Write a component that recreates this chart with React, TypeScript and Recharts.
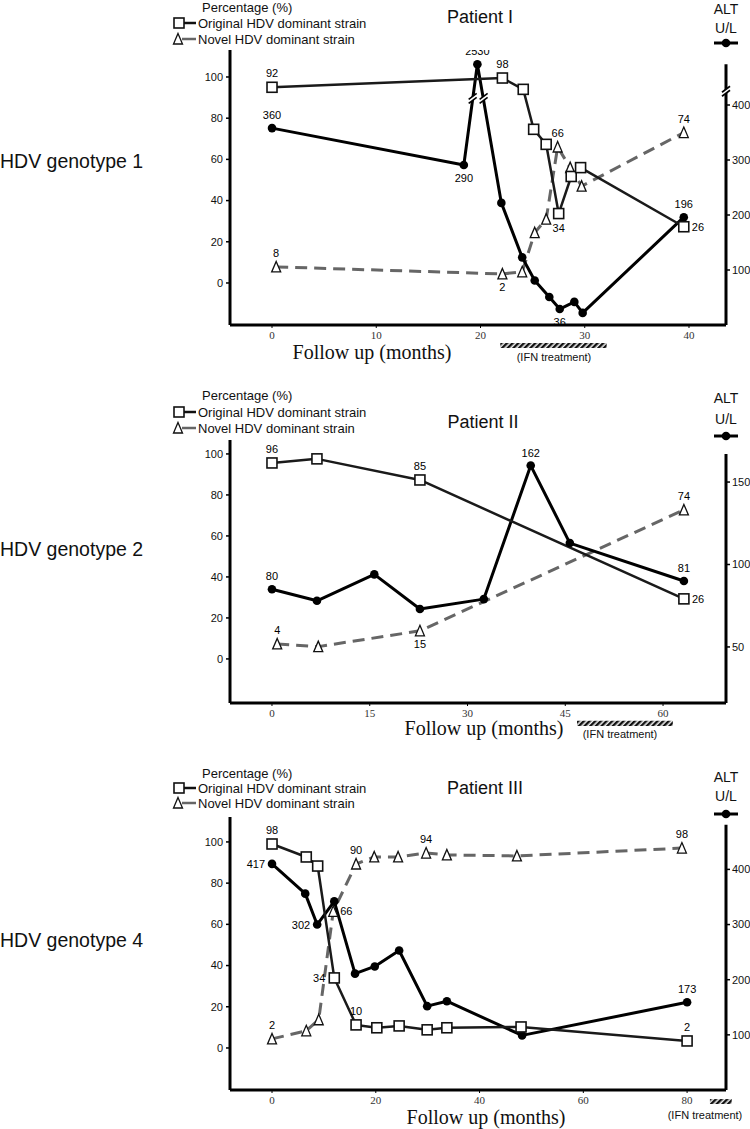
import React from 'react';
import { ComposedChart, Line, XAxis, YAxis, ReferenceLine, ReferenceArea, ReferenceDot } from 'recharts';

// ---------------- Patient I (HDV genotype 1) ----------------
const p1OrigMonths = [0, 22.1, 24.1, 25.1, 26.3, 27.5, 28.7, 29.6, 39.5];
const p1OrigPct = [95, 99.5, 94, 74.6, 67.3, 33.7, 51.7, 56, 27.3];
const p1OrigLabels = ['92', '98', '', '', '', '34', '', '', '26'];
const p1NovelMonths = [0.4, 22.1, 24, 25.2, 26.3, 27.4, 28.6, 29.7, 39.5];
const p1NovelPct = [7.8, 4.4, 5.4, 24.4, 31, 66, 56, 47, 73];
const p1NovelLabels = ['8', '2', '', '', '', '66', '', '', '74'];
const p1AltMonths = [0, 18.4, 19.7, 22, 24, 25.2, 26.6, 27.6, 29, 29.8, 39.5];
const p1Alt = [358, 291, 2530, 222, 123, 81, 51, 29, 42, 22, 196];
const p1AltLabels = ['360', '290', '2530', '', '', '', '', '36', '', '', '196'];
const p1MonthTicks = [0, 10, 20, 30, 40];
const p1AltTicks = [100, 200, 300, 400];
const p1Ifn = [21.9, 32.1];

// ---------------- Patient II (HDV genotype 2) ----------------
const p2OrigMonths = [0, 6.9, 22.7, 63.2];
const p2OrigPct = [95.6, 97.6, 87.3, 29.3];
const p2OrigLabels = ['96', '', '85', '26'];
const p2NovelMonths = [0.8, 7.1, 22.7, 63.2];
const p2NovelPct = [7.3, 6, 13.7, 72.7];
const p2NovelLabels = ['4', '', '15', '74'];
const p2AltMonths = [0, 6.9, 15.7, 22.7, 32.5, 39.7, 45.7, 63.2];
const p2Alt = [85, 78, 94, 73, 79, 160, 113, 90];
const p2AltLabels = ['80', '', '', '', '', '162', '', '81'];
const p2MonthTicks = [0, 15, 30, 45, 60];
const p2AltTicks = [50, 100, 150];
const p2Ifn = [46.8, 61.5];

// ---------------- Patient III (HDV genotype 4) ----------------
const p3OrigMonths = [0, 6.6, 8.8, 12, 16.2, 20.2, 24.5, 29.9, 33.7, 48, 80];
const p3OrigPct = [99, 92.7, 88.3, 34, 11.2, 9.8, 10.7, 8.8, 9.8, 10.2, 3.4];
const p3OrigLabels = ['98', '', '', '34', '10', '', '', '', '', '', '2'];
const p3NovelMonths = [0, 6.6, 9, 11.8, 16.2, 19.7, 24.3, 29.7, 33.7, 47.2, 79];
const p3NovelPct = [4.4, 8.3, 13.7, 66.3, 89.3, 92.7, 92.7, 94.6, 93.7, 93.2, 97];
const p3NovelLabels = ['2', '', '', '66', '90', '', '', '94', '', '', '98'];
const p3AltMonths = [0, 6.4, 8.7, 12, 16, 19.8, 24.5, 29.9, 33.7, 48.2, 80];
const p3Alt = [410, 356, 300, 342, 211, 224, 253, 152, 161, 99, 159];
const p3AltLabels = ['417', '', '302', '', '', '', '', '', '', '', '173'];
const p3MonthTicks = [0, 20, 40, 60, 80];
const p3AltTicks = [100, 200, 300, 400];
const p3Ifn = [84.4, 88.6];

const pctTicks = [0, 20, 40, 60, 80, 100];

// label placement (style, not data)
const p1OrigPos = ['t', 't', '', '', '', 'b', '', '', 'r'];
const p1NovelPos = ['t', 'b', '', '', '', 't', '', '', 't'];
const p1AltPos = ['t', 'b', 't', '', '', '', '', 'b', '', '', 't'];
const p2OrigPos = ['t', '', 't', 'r'];
const p2NovelPos = ['t', '', 'b', 't'];
const p2AltPos = ['t', '', '', '', '', 't', '', 't'];
const p3OrigPos = ['t', '', '', 'l', 't', '', '', '', '', '', 't'];
const p3NovelPos = ['t', '', '', 'r', 't', '', '', 't', '', '', 't'];
const p3AltPos = ['l', '', 'l', '', '', '', '', '', '', '', 't'];

// axis break for ALT in patient I
const P1_BREAK_ABOVE = 450;
const P1_BREAK_DRAW = 474;

const SANS = '"Liberation Sans", Arial, sans-serif';
const SERIF = '"Liberation Serif", "Times New Roman", serif';

type Row = { x: number; y: number; lbl: string; pos: string };
const rows = (xs: number[], ys: number[], labels: string[], pos: string[]): Row[] =>
  xs.map((x, i) => ({ x, y: ys[i], lbl: labels[i], pos: pos[i] || 't' }));

const OFF: Record<string, Record<string, [number, number]>> = {
  sq: { t: [0, -10], b: [0, 18], l: [-9, 4], r: [8, 4] },
  dot: { t: [0, -9], b: [0, 17], l: [-7, 4], r: [7, 4] },
  tri: { t: [0, -10], b: [0, 17], l: [-8, 4], r: [7, 4] },
};

const Lbl = ({ cx, cy, row, kind }: any) => {
  if (!row || !row.lbl) return null;
  const o = OFF[kind][row.pos] || OFF[kind].t;
  const anchor = row.pos === 'l' ? 'end' : row.pos === 'r' ? 'start' : 'middle';
  return (
    <text x={cx + o[0]} y={cy + o[1]} textAnchor={anchor} fontSize={11} fill="#000" fontFamily={SANS}>
      {row.lbl}
    </text>
  );
};

const squareDot = (p: any) => (
  <g key={`s${p.index}`}>
    <rect x={p.cx - 5} y={p.cy - 5} width={10} height={10} fill="#fff" stroke="#111" strokeWidth={1.6} />
    <Lbl cx={p.cx} cy={p.cy} row={p.payload} kind="sq" />
  </g>
);
const triDot = (p: any) => (
  <g key={`t${p.index}`}>
    <polygon
      points={`${p.cx},${p.cy - 5.5} ${p.cx + 4.5},${p.cy + 5} ${p.cx - 4.5},${p.cy + 5}`}
      fill="#fff"
      stroke="#111"
      strokeWidth={1.3}
    />
    <Lbl cx={p.cx} cy={p.cy} row={p.payload} kind="tri" />
  </g>
);
const circleDot = (p: any) => (
  <g key={`c${p.index}`}>
    <circle cx={p.cx} cy={p.cy} r={4.3} fill="#000" />
    <Lbl cx={p.cx} cy={p.cy} row={p.payload} kind="dot" />
  </g>
);

const BreakMark = (p: any) => {
  const { cx, cy } = p;
  return (
    <g>
      <polygon points={`${cx - 4},${cy + 1} ${cx + 4},${cy - 5} ${cx + 4},${cy - 1} ${cx - 4},${cy + 5}`} fill="#fff" />
      <line x1={cx - 4} y1={cy + 1} x2={cx + 4} y2={cy - 5} stroke="#000" strokeWidth={1.6} />
      <line x1={cx - 4} y1={cy + 5} x2={cx + 4} y2={cy - 1} stroke="#000" strokeWidth={1.6} />
    </g>
  );
};

type PanelProps = {
  id: string;
  top: number;
  height: number;
  marginTop: number;
  xAxisHeight: number;
  xDomain: [number, number];
  xTicks: number[];
  pctDomain: [number, number];
  altDomain: [number, number];
  altTicks: number[];
  altAxisTop: number;
  orig: Row[];
  novel: Row[];
  alt: Row[];
  ifn: number[];
  ifnPct: [number, number];
  altBreaks?: { x: number; y: number }[];
  axisBreak?: number;
};

function Panel(props: PanelProps) {
  const { id, top, height, marginTop, xAxisHeight, xDomain, xTicks, pctDomain, altDomain, altTicks, altAxisTop, orig, novel, alt, ifn, ifnPct, altBreaks, axisBreak } = props;
  return (
    <div style={{ position: 'absolute', left: 0, top }}>
      <ComposedChart width={750} height={height} margin={{ top: marginTop, right: 0, bottom: 0, left: 0 }}>
        <defs>
          <pattern id={`hatch${id}`} width={4} height={4} patternUnits="userSpaceOnUse" patternTransform="rotate(45)">
            <rect width={4} height={4} fill="#eee" />
            <rect width={2.4} height={4} fill="#111" />
          </pattern>
        </defs>
        <XAxis
          type="number"
          dataKey="x"
          domain={xDomain}
          ticks={xTicks}
          allowDataOverflow
          height={xAxisHeight}
          axisLine={{ stroke: '#000', strokeWidth: 3 }}
          tickLine={{ stroke: '#000', strokeWidth: 1 }}
          tickSize={3}
          tickMargin={3}
          tick={{ fontSize: 11, fill: '#333', fontFamily: SERIF }}
        />
        <YAxis
          yAxisId="pct"
          orientation="left"
          width={230}
          domain={pctDomain}
          ticks={pctTicks}
          allowDataOverflow
          axisLine={{ stroke: '#000', strokeWidth: 3 }}
          tickLine={{ stroke: '#000', strokeWidth: 1.5 }}
          tickSize={4}
          tickMargin={3}
          tick={{ fontSize: 11, fill: '#111', fontFamily: SANS }}
        />
        <YAxis
          yAxisId="alt"
          orientation="right"
          width={24}
          domain={altDomain}
          ticks={altTicks}
          allowDataOverflow
          axisLine={false}
          tickLine={{ stroke: '#000', strokeWidth: 1.5 }}
          tickSize={4}
          tickMargin={2}
          tick={{ fontSize: 11, fill: '#111', fontFamily: SANS }}
        />
        <ReferenceLine
          yAxisId="alt"
          segment={[{ x: xDomain[1], y: altDomain[0] }, { x: xDomain[1], y: altAxisTop }]}
          stroke="#000"
          strokeWidth={3}
          ifOverflow="visible"
        />
        {axisBreak !== undefined && (
          <ReferenceDot yAxisId="alt" x={xDomain[1]} y={axisBreak} r={0} ifOverflow="visible" shape={BreakMark} />
        )}
        <ReferenceArea
          yAxisId="pct"
          x1={ifn[0]}
          x2={ifn[1]}
          y1={ifnPct[0]}
          y2={ifnPct[1]}
          fill={`url(#hatch${id})`}
          fillOpacity={1}
          stroke="none"
          ifOverflow="visible"
        />
        <Line
          yAxisId="pct"
          data={novel}
          dataKey="y"
          type="linear"
          stroke="#666"
          strokeWidth={3}
          strokeDasharray="12 7"
          strokeLinejoin="round"
          dot={triDot}
          activeDot={false}
          isAnimationActive={false}
        />
        <Line
          yAxisId="alt"
          data={alt}
          dataKey="y"
          type="linear"
          stroke="#000"
          strokeWidth={3}
          strokeLinejoin="round"
          dot={circleDot}
          activeDot={false}
          isAnimationActive={false}
        />
        <Line
          yAxisId="pct"
          data={orig}
          dataKey="y"
          type="linear"
          stroke="#1a1a1a"
          strokeWidth={2.5}
          strokeLinejoin="round"
          dot={squareDot}
          activeDot={false}
          isAnimationActive={false}
        />
        {(altBreaks || []).map((b, i) => (
          <ReferenceDot key={`b${i}`} yAxisId="alt" x={b.x} y={b.y} r={0} ifOverflow="visible" shape={BreakMark} />
        ))}
      </ComposedChart>
    </div>
  );
}

function LegendBlock({ y0, y1, y2 }: { y0: number; y1: number; y2: number }) {
  return (
    <g fontFamily={SANS} fontSize={13} fill="#111">
      <text x={202} y={y0} dominantBaseline="central">Percentage (%)</text>
      <line x1={182} y1={y1} x2={196} y2={y1} stroke="#111" strokeWidth={2.5} />
      <rect x={174} y={y1 - 5} width={10} height={10} fill="#fff" stroke="#111" strokeWidth={1.6} />
      <text x={198} y={y1} dominantBaseline="central">Original HDV dominant strain</text>
      <line x1={182} y1={y2} x2={196} y2={y2} stroke="#666" strokeWidth={2.5} />
      <polygon points={`178,${y2 - 5.5} 182.5,${y2 + 5} 173.5,${y2 + 5}`} fill="#fff" stroke="#111" strokeWidth={1.3} />
      <text x={198} y={y2} dominantBaseline="central">Novel HDV dominant strain</text>
    </g>
  );
}

function AltLegend({ x, y0, y1, y2 }: { x: number; y0: number; y1: number; y2: number }) {
  return (
    <g fontFamily={SANS} fontSize={14} fill="#111">
      <text x={x} y={y0} textAnchor="middle" dominantBaseline="central">ALT</text>
      <text x={x} y={y1} textAnchor="middle" dominantBaseline="central">U/L</text>
      <line x1={x - 12} y1={y2} x2={x + 12} y2={y2} stroke="#000" strokeWidth={3} />
      <circle cx={x} cy={y2} r={4.3} fill="#000" />
    </g>
  );
}

export default function App() {
  const p1AltPlot = p1Alt.map((v) => (v > P1_BREAK_ABOVE ? P1_BREAK_DRAW : v));
  return (
    <div style={{ position: 'absolute', left: 0, top: 0, width: 750, height: 1129, background: '#fff', overflow: 'hidden' }}>
      <Panel
        id="1"
        top={0}
        height={370}
        marginTop={50}
        xAxisHeight={45}
        xDomain={[-4.03, 43.55]}
        xTicks={p1MonthTicks}
        pctDomain={[-20.4, 113.1]}
        altDomain={[0, 500]}
        altTicks={p1AltTicks}
        altAxisTop={474}
        axisBreak={425}
        orig={rows(p1OrigMonths, p1OrigPct, p1OrigLabels, p1OrigPos)}
        novel={rows(p1NovelMonths, p1NovelPct, p1NovelLabels, p1NovelPos)}
        alt={rows(p1AltMonths, p1AltPlot, p1AltLabels, p1AltPos)}
        ifn={p1Ifn}
        ifnPct={[-29.1, -31.6]}
        altBreaks={[{ x: 19.25, y: 412 }, { x: 20.3, y: 412 }]}
      />
      <Panel
        id="2"
        top={370}
        height={380}
        marginTop={70}
        xAxisHeight={47}
        xDomain={[-6.44, 69.66]}
        xTicks={p2MonthTicks}
        pctDomain={[-21.5, 106.8]}
        altDomain={[16, 175.5]}
        altTicks={p2AltTicks}
        altAxisTop={167}
        orig={rows(p2OrigMonths, p2OrigPct, p2OrigLabels, p2OrigPos)}
        novel={rows(p2NovelMonths, p2NovelPct, p2NovelLabels, p2NovelPos)}
        alt={rows(p2AltMonths, p2Alt, p2AltLabels, p2AltPos)}
        ifn={p2Ifn}
        ifnPct={[-30.2, -32.7]}
      />
      <Panel
        id="3"
        top={750}
        height={379}
        marginTop={67}
        xAxisHeight={39}
        xDomain={[-8.1, 87.5]}
        xTicks={p3MonthTicks}
        pctDomain={[-20.4, 112.1]}
        altDomain={[0, 495]}
        altTicks={p3AltTicks}
        altAxisTop={481}
        orig={rows(p3OrigMonths, p3OrigPct, p3OrigLabels, p3OrigPos)}
        novel={rows(p3NovelMonths, p3NovelPct, p3NovelLabels, p3NovelPos)}
        alt={rows(p3AltMonths, p3Alt, p3AltLabels, p3AltPos)}
        ifn={p3Ifn}
        ifnPct={[-24.8, -27.2]}
      />
      <svg width={750} height={1129} style={{ position: 'absolute', left: 0, top: 0, pointerEvents: 'none' }}>
        {/* Panel I */}
        <LegendBlock y0={7} y1={23} y2={39} />
        <text x={480} y={17} textAnchor="middle" dominantBaseline="central" fontFamily={SANS} fontSize={18} fill="#111">Patient I</text>
        <AltLegend x={726} y0={9} y1={28} y2={43} />
        <text x={0} y={161} dominantBaseline="central" fontFamily={SANS} fontSize={19.5} fill="#111">HDV genotype 1</text>
        <text x={372} y={352} textAnchor="middle" dominantBaseline="central" fontFamily={SERIF} fontSize={20} fill="#111">Follow up (months)</text>
        <text x={554} y={357} textAnchor="middle" dominantBaseline="central" fontFamily={SANS} fontSize={11} fill="#111">(IFN treatment)</text>
        {/* Panel II */}
        <LegendBlock y0={395} y1={412} y2={428} />
        <text x={483} y={422} textAnchor="middle" dominantBaseline="central" fontFamily={SANS} fontSize={18} fill="#111">Patient II</text>
        <AltLegend x={726} y0={398} y1={419} y2={436} />
        <text x={0} y={549} dominantBaseline="central" fontFamily={SANS} fontSize={19.5} fill="#111">HDV genotype 2</text>
        <text x={484} y={728} textAnchor="middle" dominantBaseline="central" fontFamily={SERIF} fontSize={20} fill="#111">Follow up (months)</text>
        <text x={620} y={734} textAnchor="middle" dominantBaseline="central" fontFamily={SANS} fontSize={11} fill="#111">(IFN treatment)</text>
        {/* Panel III */}
        <LegendBlock y0={773} y1={788} y2={803} />
        <text x={485} y={788} textAnchor="middle" dominantBaseline="central" fontFamily={SANS} fontSize={18} fill="#111">Patient III</text>
        <AltLegend x={726} y0={777} y1={796} y2={814} />
        <text x={0} y={940} dominantBaseline="central" fontFamily={SANS} fontSize={19.5} fill="#111">HDV genotype 4</text>
        <text x={486} y={1117} textAnchor="middle" dominantBaseline="central" fontFamily={SERIF} fontSize={20} fill="#111">Follow up (months)</text>
        <text x={705} y={1115} textAnchor="middle" dominantBaseline="central" fontFamily={SANS} fontSize={11} fill="#111">(IFN treatment)</text>
      </svg>
    </div>
  );
}
